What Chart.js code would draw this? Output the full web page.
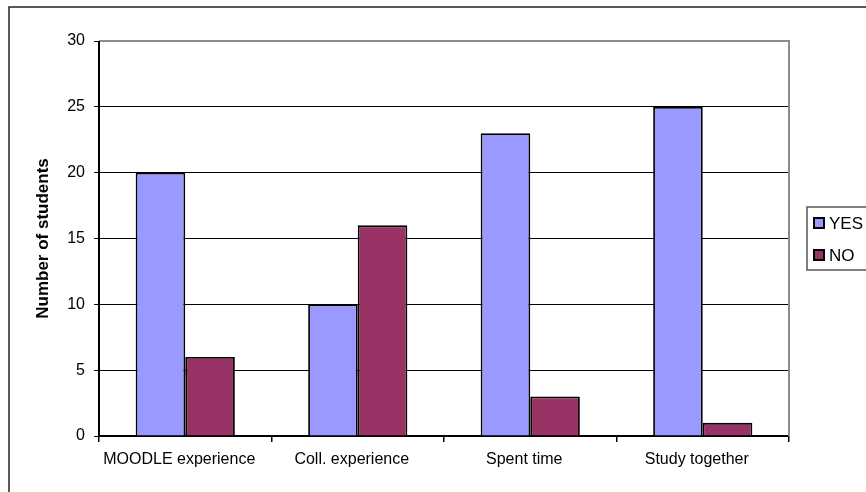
<!DOCTYPE html>
<html>
<head>
<meta charset="utf-8">
<script src="https://cdn.jsdelivr.net/npm/chart.js@4.4.0/dist/chart.umd.min.js"></script>
<style>
  html, body { margin: 0; padding: 0; background: #fff; }
  #wrap { width: 866px; height: 492px; }
</style>
</head>
<body>
<div id="wrap"><canvas id="c" width="866" height="492"></canvas></div>
<script>
const categories = ['MOODLE experience', 'Coll. experience', 'Spent time', 'Study together'];
const yesValues = [20, 10, 23, 25];
const noValues = [6, 16, 3, 1];
const yTicks = [0, 5, 10, 15, 20, 25, 30];

const FONT = 'Liberation Sans, Arial, sans-serif';

// Frame around the whole chart, plot border on top/right, and the boxed legend
const decorations = {
  id: 'decorations',
  beforeDraw(chart) {
    const ctx = chart.ctx;
    ctx.save();
    ctx.fillStyle = '#fff';
    ctx.fillRect(0, 0, chart.width, chart.height);
    ctx.strokeStyle = '#222';
    ctx.lineWidth = 1.5;
    ctx.strokeRect(9, 7, chart.width + 20, chart.height + 20);
    ctx.restore();
  },
  afterDraw(chart) {
    const ctx = chart.ctx;
    const a = chart.chartArea;
    ctx.save();
    // plot area border (top and right edges)
    ctx.strokeStyle = '#8c8c8c';
    ctx.lineWidth = 2;
    ctx.beginPath();
    ctx.moveTo(a.left, a.top);
    ctx.lineTo(a.right, a.top);
    ctx.lineTo(a.right, a.bottom);
    ctx.stroke();
    // y axis line
    ctx.strokeStyle = '#000';
    ctx.lineWidth = 2;
    ctx.beginPath();
    ctx.moveTo(a.left, a.top);
    ctx.lineTo(a.left, a.bottom);
    ctx.stroke();

    // legend
    const lx = 807, ly = 207, lh = 63;
    ctx.strokeStyle = '#555';
    ctx.lineWidth = 1.5;
    ctx.fillStyle = '#fff';
    ctx.fillRect(lx, ly, 100, lh);
    ctx.strokeRect(lx, ly, 100, lh);
    ctx.font = '17px ' + FONT;
    ctx.textBaseline = 'middle';
    ctx.textAlign = 'left';
    chart.data.datasets.forEach((ds, i) => {
      const cy = 223 + i * 32;
      ctx.fillStyle = ds.backgroundColor;
      ctx.fillRect(814, cy - 5, 10, 10);
      ctx.strokeStyle = '#000';
      ctx.lineWidth = 2;
      ctx.strokeRect(814, cy - 5, 10, 10);
      ctx.fillStyle = '#000';
      ctx.fillText(ds.label, 829, cy + 1);
    });
    ctx.restore();
  }
};

new Chart(document.getElementById('c'), {
  type: 'bar',
  data: {
    labels: categories,
    datasets: [
      { label: 'YES', data: yesValues, backgroundColor: '#9999ff', borderColor: '#000', borderWidth: 1.8 },
      { label: 'NO', data: noValues, backgroundColor: '#993366', borderColor: '#000', borderWidth: 1.8 }
    ]
  },
  options: {
    responsive: false,
    animation: false,
    devicePixelRatio: 1,
    categoryPercentage: 0.575,
    barPercentage: 1.0,
    layout: { padding: { left: 9, top: 41, right: 77, bottom: 0 } },
    plugins: { legend: { display: false }, tooltip: { enabled: false } },
    scales: {
      x: {
        grid: { drawOnChartArea: false, drawTicks: true, tickLength: 6, color: '#000', lineWidth: 1.5 },
        border: { display: true, color: '#000', width: 1.5 },
        ticks: { color: '#000', font: { family: FONT, size: 16 }, padding: 8, labelOffset: -6, maxRotation: 0, autoSkip: false },
        afterFit(scale) { scale.height = 56; }
      },
      y: {
        min: 0,
        max: 30,
        afterBuildTicks(scale) { scale.ticks = yTicks.map(v => ({ value: v })); },
        grid: { color: '#000', lineWidth: 1, tickLength: 5, drawTicks: true },
        border: { display: false },
        ticks: { color: '#000', font: { family: FONT, size: 16 }, padding: 9 },
        title: {
          display: true,
          text: 'Number of students',
          color: '#000',
          font: { family: FONT, size: 17, weight: 'bold' },
          padding: { top: 24, bottom: 0 }
        },
        afterFit(scale) { scale.width = 90; }
      }
    }
  },
  plugins: [decorations]
});
</script>
</body>
</html>
